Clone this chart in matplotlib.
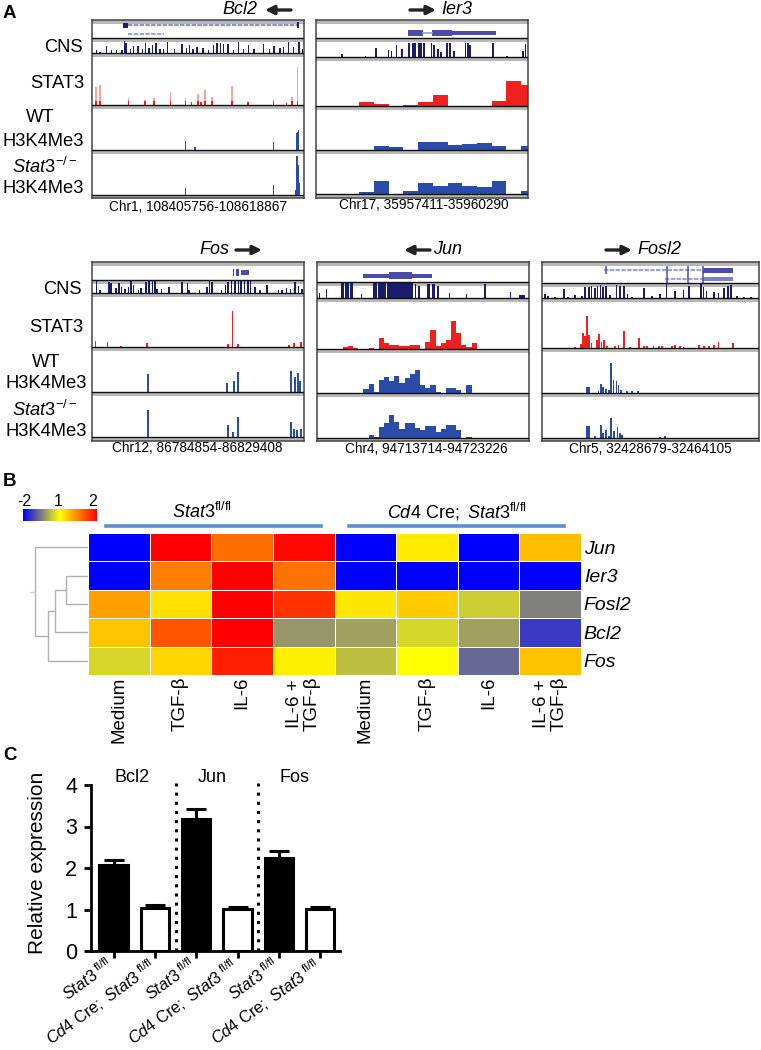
import matplotlib
matplotlib.use('Agg')
import matplotlib.pyplot as plt
from matplotlib.colors import LinearSegmentedColormap, TwoSlopeNorm
from matplotlib.patches import FancyArrowPatch
from matplotlib.transforms import ScaledTranslation
import numpy as np

plt.rcParams['font.family'] = ['Liberation Sans', 'DejaVu Sans']
plt.rcParams['mathtext.fontset'] = 'custom'
plt.rcParams['mathtext.rm'] = 'Liberation Sans'
plt.rcParams['mathtext.it'] = 'Liberation Sans:italic'
plt.rcParams['mathtext.bf'] = 'Liberation Sans:bold'

W, H = 761, 1050

# ---- panel A: browser tracks, position along the window / peak height
bcl2_cns_pos = [279, 289, 308, 323, 338, 353, 360, 365, 377, 387, 400, 412, 422, 432, 442, 452, 464, 474, 486, 505, 528, 540, 550, 560, 571, 589, 604, 619, 629, 639, 649, 661, 678, 691, 706, 720, 737, 765, 782, 795, 812, 822, 837, 851, 868, 877]
bcl2_cns_h = [3, 1, 7, 3, 3, 3, 12, 10, 4, 7, 7, 4, 10, 5, 8, 10, 4, 4, 11, 4, 9, 5, 8, 4, 6, 5, 3, 8, 10, 10, 9, 9, 3, 11, 4, 8, 4, 9, 4, 7, 5, 6, 11, 6, 11, 4]
bcl2_stat3_pos = [277, 289, 372, 420, 446, 494, 538, 555, 573, 582, 594, 614, 673, 720, 793, 831, 848, 863]
bcl2_stat3_h = [18, 20, 7, 5, 7, 13, 7, 3, 11, 3, 15, 8, 19, 3, 5, 2, 8, 38]
bcl2_wt_pos = [538, 565, 793, 860, 863, 866]
bcl2_wt_h = [9, 3, 8, 17, 18, 20]
bcl2_ko_pos = [538, 793, 858, 861, 864, 867]
bcl2_ko_h = [7, 10, 5, 39, 30, 12]

ier3_cns_pos = [992, 1060, 1090, 1127, 1135, 1150, 1165, 1187, 1197, 1203, 1215, 1222, 1230, 1252, 1258, 1270, 1280, 1297, 1305, 1318, 1350, 1357, 1363, 1430, 1470, 1518, 1525]
ier3_cns_h = [3, 1, 9, 7, 6, 12, 8, 14, 14, 14, 14, 14, 14, 14, 12, 8, 5, 14, 14, 6, 14, 14, 12, 14, 1, 6, 13]
ier3_stat3_bins = [0, 0, 0, 4, 2, 0, 1, 4, 11, 0, 0, 0, 5, 25, 21]
ier3_wt_bins = [0, 0, 0, 0, 4, 3, 0, 8, 8, 5, 6, 7, 4, 0, 4]
ier3_ko_bins = [0, 0, 0, 2, 13, 0, 3, 11, 8, 11, 8, 7, 13, 0, 3]

fos_cns_pos = [199, 206, 225, 229, 239, 246, 251, 258, 265, 270, 275, 286, 291, 301, 307, 314, 319, 324, 333, 348, 375, 386, 390, 411, 426, 432, 437, 456, 465, 470, 477, 484, 491, 497, 504, 511, 516, 525, 536, 550, 574, 581, 590, 598, 608, 615, 622]
fos_cns_h = [12, 3, 11, 10, 5, 10, 6, 4, 6, 13, 8, 3, 5, 11, 12, 12, 12, 4, 4, 6, 11, 10, 3, 3, 6, 12, 11, 3, 8, 11, 12, 12, 12, 13, 12, 13, 13, 6, 3, 8, 3, 3, 5, 4, 11, 7, 4]
fos_stat3_pos = [197, 222, 250, 303, 470, 479, 490, 595, 605, 620]
fos_stat3_h = [6, 5, 1, 4, 3, 36, 3, 2, 4, 5]
fos_wt_pos = [305, 468, 483, 491, 600, 607, 613, 618]
fos_wt_h = [18, 9, 11, 20, 21, 15, 19, 11]
fos_ko_pos = [305, 470, 480, 491, 600, 606, 612, 620]
fos_ko_h = [27, 12, 5, 20, 15, 8, 7, 8]

jun_cns_start = [658, 672, 703, 712, 722, 745, 770, 780, 798, 855, 862, 880, 890, 900, 925, 960, 998, 1050, 1070]
jun_cns_wide = [3, 2, 7, 7, 7, 2, 7, 15, 54, 3, 3, 7, 7, 5, 2, 2, 3, 3, 12]
jun_cns_h = [5, 9, 15, 15, 15, 4, 15, 15, 15, 14, 12, 14, 14, 12, 5, 4, 14, 6, 3]
jun_stat3_bins = [0, 0, 0, 0, 0, 2, 3, 1, 0, 0, 1, 0, 11, 6, 4, 4, 3, 3, 4, 4, 0, 7, 19, 3, 6, 9, 28, 16, 4, 2, 6, 0, 0, 0, 0, 0, 0, 0, 0, 0, 0]
jun_wt_bins = [0, 0, 0, 0, 0, 0, 0, 0, 0, 4, 9, 1, 13, 16, 12, 17, 10, 15, 19, 23, 8, 5, 8, 1, 0, 5, 5, 3, 0, 8, 0, 0, 0, 0, 0, 0, 0, 0, 0, 0, 0]
jun_ko_bins = [0, 0, 0, 0, 0, 0, 0, 0, 0, 0, 3, 1, 11, 15, 23, 16, 9, 15, 15, 10, 8, 12, 12, 6, 9, 13, 13, 8, 0, 1, 0, 0, 0, 0, 0, 0, 0, 0, 0, 0, 0]

fosl2_cns_pos = [1123, 1130, 1144, 1162, 1171, 1185, 1199, 1206, 1213, 1219, 1226, 1231, 1237, 1243, 1249, 1257, 1270, 1278, 1285, 1293, 1302, 1326, 1343, 1360, 1373, 1391, 1408, 1419, 1444, 1449, 1455, 1470, 1480, 1491, 1499, 1506, 1518, 1532, 1546]
fosl2_cns_h = [4, 2, 1, 9, 1, 3, 2, 11, 11, 12, 10, 12, 13, 11, 12, 3, 13, 12, 12, 4, 1, 10, 2, 4, 15, 7, 8, 12, 15, 11, 7, 6, 5, 10, 12, 13, 2, 1, 1]
fosl2_stat3_pos = [1185, 1197, 1201, 1206, 1210, 1214, 1219, 1230, 1234, 1239, 1245, 1250, 1267, 1274, 1286, 1298, 1316, 1327, 1333, 1346, 1357, 1364, 1384, 1391, 1400, 1408, 1439, 1450, 1460, 1470, 1480, 1510]
fosl2_stat3_h = [1, 4, 15, 12, 32, 13, 5, 8, 14, 6, 8, 2, 2, 3, 17, 1, 10, 2, 2, 2, 2, 2, 2, 3, 2, 1, 3, 2, 2, 3, 6, 5]
fosl2_wt_pos = [1210, 1214, 1233, 1238, 1243, 1249, 1254, 1259, 1264, 1270, 1274, 1280, 1291, 1302, 1314]
fosl2_wt_h = [6, 6, 2, 9, 6, 4, 3, 30, 13, 12, 8, 3, 2, 2, 2]
fosl2_ko_pos = [1210, 1214, 1226, 1238, 1243, 1249, 1254, 1259, 1265, 1272, 1278, 1282, 1360, 1370]
fosl2_ko_h = [12, 12, 2, 13, 5, 8, 2, 20, 7, 11, 5, 3, 1, 2]

# ---- panel B
heat_rows = ['Jun', 'Ier3', 'Fosl2', 'Bcl2', 'Fos']
heat_cols = ['Medium', 'TGF-β', 'IL-6', 'IL-6 +\nTGF-β', 'Medium', 'TGF-β', 'IL-6', 'IL-6 +\nTGF-β']
heat_jun = [-2, 2.0, 1.57, 1.97, -2, 1.08, -2, 1.25]
heat_ier3 = [-2, 1.5, 2.0, 1.55, -2, -2, -2, -2]
heat_fosl2 = [1.37, 1.12, 2.0, 1.8, 1.1, 1.2, 0.41, -0.5]
heat_bcl2 = [1.22, 1.67, 2.0, -0.24, -0.12, 0.53, -0.12, -1.3]
heat_fos = [0.53, 1.16, 1.88, 1.06, 0.24, 1.0, -0.76, 1.24]

# ---- panel C
bar_labels = [r'$\mathit{Stat3}^{\ \mathrm{fl/fl}}$', r'$\mathit{Cd4}\ \mathrm{Cre;}\ \mathit{Stat3}^{\ \mathrm{fl/fl}}$'] * 3
bar_values = [2.07, 1.03, 3.18, 1.02, 2.24, 1.02]
bar_errors = [0.13, 0.07, 0.25, 0.05, 0.18, 0.05]
bar_colors = ['black', 'white'] * 3
group_names = ['Bcl2', 'Jun', 'Fos']

NAVY = '#1c1c6c'
RED = '#ee2020'
BLUE = '#2b4ba8'
GENE = '#4b4bab'

fig = plt.figure(figsize=(W / 100, H / 100), dpi=100)


def px_axes(x0, y0, x1, y1):
    return fig.add_axes([x0 / W, 1 - y1 / H, (x1 - x0) / W, (y1 - y0) / H])


def ptext(x, y, s, **kw):
    kw.setdefault('ha', 'center')
    kw.setdefault('va', 'center')
    fig.text(x / W, 1 - y / H, s, **kw)


def arrow(x0, x1, y):
    fig.add_artist(FancyArrowPatch(
        (x0 / W, 1 - y / H), (x1 / W, 1 - y / H), transform=fig.transFigure,
        arrowstyle='-|>', mutation_scale=13, lw=2.4, color='#222222', shrinkA=0, shrinkB=0))


def browser(box, xr, lines):
    # y runs in picture rows so the track baselines can be given directly
    ax = px_axes(*box)
    ax.set_xlim(*xr)
    ax.set_ylim(box[3], box[1])
    ax.set_xticks([])
    ax.set_yticks([])
    for s in ax.spines.values():
        s.set_color('#444444')
        s.set_linewidth(1.1)
    ax.axhspan(box[1], box[1] + 3.5, color='#b8b8b8', lw=0, zorder=1)
    for y in lines:
        ax.axhspan(y, y + 3.5, color='#b8b8b8', lw=0, zorder=1)
        ax.axhline(y, color='#111111', lw=1.0, zorder=3)
    return ax


def peaks(ax, base, pos, h, color, width):
    ax.bar(pos, -np.array(h, dtype=float), width=width, bottom=base, color=color, lw=0, zorder=2)


def bins(ax, base, x0, step, vals, color):
    pos = x0 + step * np.arange(len(vals))
    ax.bar(pos, -np.array(vals, dtype=float), width=step, align='edge', bottom=base, color=color, lw=0, zorder=2)


# Bcl2
ax = browser((92, 20, 304, 198), (266, 882), [38, 53, 105, 150, 195])
peaks(ax, 53, bcl2_cns_pos, bcl2_cns_h, NAVY, 4)
peaks(ax, 105, bcl2_stat3_pos, bcl2_stat3_h, '#f9a0a0', 5)
peaks(ax, 105, bcl2_stat3_pos, np.minimum(bcl2_stat3_h, 4), RED, 5)
peaks(ax, 150, bcl2_wt_pos, bcl2_wt_h, BLUE, 4.5)
peaks(ax, 195, bcl2_ko_pos, bcl2_ko_h, BLUE, 4.5)
ax.plot([370, 862], [25, 25], color='#8f8fcc', lw=1.6, linestyle=(0, (2, 0.6)))
ax.plot([370, 475], [34, 34], color='#a5a5e0', lw=1.6, linestyle=(0, (2, 0.6)))
ax.barh([25], [15], left=[356], height=5, color=NAVY)
ax.barh([25], [6], left=[861], height=6, color=NAVY)

# Ier3
ax = browser((316, 20, 528, 198), (916, 1532), [38, 57, 106, 150, 194])
peaks(ax, 57, ier3_cns_pos, ier3_cns_h, NAVY, 5)
bins(ax, 106, 914, 42.7, ier3_stat3_bins, RED)
bins(ax, 150, 914, 42.7, ier3_wt_bins, BLUE)
bins(ax, 194, 914, 42.7, ier3_ko_bins, BLUE)
ax.plot([1228, 1252], [32.5, 32.5], color='#9a9ad8', lw=1.2)
ax.barh([32.5, 32.5, 32.5], [45, 58, 128], left=[1183, 1252, 1310], height=[6, 6, 4], color=GENE)

# Fos
ax = browser((92, 262, 304, 441), (190, 626), [280, 293, 347, 392, 437])
peaks(ax, 293, fos_cns_pos, fos_cns_h, NAVY, 3.2)
peaks(ax, 347, fos_stat3_pos, fos_stat3_h, RED, 3)
peaks(ax, 392, fos_wt_pos, fos_wt_h, BLUE, 4)
peaks(ax, 437, fos_ko_pos, fos_ko_h, BLUE, 4)
ax.barh([272, 272, 272], [4, 5, 15], left=[479, 487, 497], height=[7, 7, 5], color=GENE)

# Jun
ax = browser((317, 262, 529, 441), (654, 1090), [282, 298, 349, 393, 438])
ax.bar(jun_cns_start, -np.array(jun_cns_h, dtype=float), width=jun_cns_wide, align='edge', bottom=298, color=NAVY, lw=0, zorder=2)
bins(ax, 349, 654, 10.6, jun_stat3_bins, RED)
bins(ax, 393, 654, 10.6, jun_wt_bins, BLUE)
bins(ax, 438, 654, 10.6, jun_ko_bins, BLUE)
ax.barh([275.5, 275.5], [142, 47], left=[748, 803], height=[4, 7], color=GENE)

# Fosl2
ax = browser((542, 262, 759, 441), (1117, 1563), [283, 298, 348, 393, 438])
peaks(ax, 298, fosl2_cns_pos, fosl2_cns_h, NAVY, 3.5)
peaks(ax, 348, fosl2_stat3_pos, fosl2_stat3_h, RED, 3.5)
peaks(ax, 393, fosl2_wt_pos, fosl2_wt_h, BLUE, 3.5)
peaks(ax, 438, fosl2_ko_pos, fosl2_ko_h, BLUE, 3.5)
ax.plot([1245, 1450], [270, 270], color='#a0a0dc', lw=1.6, linestyle=(0, (2, 0.6)))
ax.plot([1370, 1450], [279, 279], color='#a0a0dc', lw=1.6, linestyle=(0, (2, 0.6)))
ax.barh([270, 279], [62, 62], left=[1447, 1447], height=[5, 4], color=[GENE, '#8080c8'])
ax.vlines([1248, 1373, 1417, 1447], 266, [274, 283, 283, 283], color=GENE, lw=1.1)

row_font = 13.2
for (x_cns, x_stat, x_wt, x_h, x_ko, ys) in [(83, 84, 40, 84, 12, (47, 83, 118, 142, 167, 189)),
                                              (82, 83, 46, 87, 12, (289, 328, 362, 383, 410, 432))]:
    ptext(x_cns, ys[0], 'CNS', ha='right', fontsize=row_font)
    ptext(x_stat, ys[1], 'STAT3', ha='right', fontsize=row_font)
    ptext(x_wt, ys[2], 'WT', fontsize=row_font)
    ptext(x_h, ys[3], 'H3K4Me3', ha='right', fontsize=row_font)
    ptext(x_ko, ys[4], r'$\mathit{Stat3}^{-/-}$', ha='left', fontsize=row_font)
    ptext(x_h, ys[5], 'H3K4Me3', ha='right', fontsize=row_font)

for x, y, s in [(240, 9, 'Bcl2'), (457, 9, 'Ier3'), (214, 250, 'Fos'), (448, 250, 'Jun'), (659, 250, 'Fosl2')]:
    ptext(x, y, s, style='italic', fontsize=13)
arrow(291, 265, 10)
arrow(410, 436, 10)
arrow(236, 262, 250)
arrow(430, 404, 250)
arrow(606, 632, 250)

for x, y, s in [(198, 207, 'Chr1, 108405756-108618867'), (424, 205, 'Chr17, 35957411-35960290'),
                (197, 448, 'Chr12, 86784854-86829408'), (426, 449, 'Chr4, 94713714-94723226'),
                (650, 449, 'Chr5, 32428679-32464105')]:
    ptext(x, y, s, fontsize=9.8)

ptext(3, 14, 'A', ha='left', fontweight='bold', fontsize=13.5)
ptext(3, 482, 'B', ha='left', fontweight='bold', fontsize=13.5)
ptext(3, 755, 'C', ha='left', fontweight='bold', fontsize=13.5)

# ---- heat map
cmap = LinearSegmentedColormap.from_list('byr', ['#0000ff', '#ffff00', '#ff0000'])
norm = TwoSlopeNorm(vmin=-2, vcenter=1, vmax=2)
heat = np.array([heat_jun, heat_ier3, heat_fosl2, heat_bcl2, heat_fos])
ax = px_axes(88, 533, 581, 675)
ax.pcolormesh(heat[::-1], cmap=cmap, norm=norm, edgecolors='white', linewidth=0.7)
for s in ax.spines.values():
    s.set_visible(False)
ax.set_xticks(np.arange(8) + 0.5)
ax.set_xticklabels(heat_cols, rotation=90, fontsize=13.5, linespacing=1.05, va='top', ha='center')
ax.tick_params(axis='x', length=0, pad=1)
ax.yaxis.tick_right()
ax.set_yticks(np.arange(5) + 0.5)
ax.set_yticklabels(heat_rows[::-1], style='italic', fontsize=14)
ax.tick_params(axis='y', length=0, pad=2)

# dendrogram, leaves at the row centres
leaf_y = [0.5, 1.5, 2.5, 3.5, 4.5]
merge_ier3_fosl2 = 0.37
merge_bcl2 = 0.55
merge_fos = 0.675
merge_jun = 0.88
dn = px_axes(28, 533, 88, 675)
dn.set_xlim(1, 0)
dn.set_ylim(5, 0)
dn.axis('off')
GR = '#b0b0b0'
mid1 = (leaf_y[1] + leaf_y[2]) / 2
mid2 = (mid1 + leaf_y[3]) / 2
mid3 = (mid2 + leaf_y[4]) / 2
mid4 = (leaf_y[0] + mid3) / 2
dn.plot([0, merge_ier3_fosl2, merge_ier3_fosl2, 0], [leaf_y[1], leaf_y[1], leaf_y[2], leaf_y[2]], color=GR, lw=1)
dn.plot([merge_ier3_fosl2, merge_bcl2, merge_bcl2, 0], [mid1, mid1, leaf_y[3], leaf_y[3]], color=GR, lw=1)
dn.plot([merge_bcl2, merge_fos, merge_fos, 0], [mid2, mid2, leaf_y[4], leaf_y[4]], color=GR, lw=1)
dn.plot([merge_fos, merge_jun, merge_jun, 0], [mid3, mid3, leaf_y[0], leaf_y[0]], color=GR, lw=1)
dn.plot([merge_jun, 0.97], [mid4, mid4], color='#d0d0d0', lw=1)

# colour key
cb = px_axes(23, 509, 97, 521)
cb.imshow(np.linspace(0, 1, 256)[None, :], cmap=cmap, aspect='auto')
cb.axis('off')
for x, s in [(24, '-2'), (58, '1'), (93, '2')]:
    ptext(x, 501, s, fontsize=11.5)

for x0, x1 in [(106, 321), (349, 564)]:
    fig.add_artist(plt.Line2D([x0 / W, x1 / W], [1 - 526 / H, 1 - 526 / H], color='#5b8fd0', lw=2.6))
ptext(202, 512, r'$\mathit{Stat3}^{\mathrm{fl/fl}}$', fontsize=13)
ptext(457, 512, r'$\mathit{Cd4}\ \mathrm{Cre;}\ \mathit{Stat3}^{\mathrm{fl/fl}}$', fontsize=13)

# ---- bar chart
ax = px_axes(91, 785, 340, 951)
x = np.arange(len(bar_values))
ax.bar(x, bar_values, width=0.68, color=bar_colors, edgecolor='black', linewidth=2.2, zorder=2)
err_lo = np.zeros(len(bar_errors))
ax.errorbar(x, bar_values, yerr=[err_lo, bar_errors], fmt='none', ecolor='black', elinewidth=2.2, capsize=7, capthick=2.2, zorder=1)
ax.set_xlim(-0.545, 5.48)
ax.set_ylim(0, 4)
ax.set_yticks([0, 1, 2, 3, 4])
ax.tick_params(axis='y', width=2, length=5, labelsize=15.5, pad=5)
ax.set_xticks(x)
ax.set_xticklabels(bar_labels, rotation=36, ha='right', rotation_mode='anchor', fontsize=11.8)
ax.tick_params(axis='x', width=2, length=5, pad=1)
shift = ScaledTranslation(-8 / 100, 4 / 100, fig.dpi_scale_trans)
for lab in ax.get_xticklabels():
    lab.set_transform(lab.get_transform() + shift)
for s in ['top', 'right']:
    ax.spines[s].set_visible(False)
for s in ['left', 'bottom']:
    ax.spines[s].set_linewidth(2)
for sep in [1.5, 3.5]:
    ax.plot([sep, sep], [0, 4.05], color='black', lw=2.2, linestyle=(0, (1, 2)), clip_on=False, zorder=3)
for pos, name in zip([0.45, 2.4, 4.37], group_names):
    ax.text(pos, 4.19, name, ha='center', va='center', fontsize=13)
ptext(38, 863, 'Relative expression', rotation=90, fontsize=15)

fig.savefig('out.png', dpi=100)
plt.close(fig)
